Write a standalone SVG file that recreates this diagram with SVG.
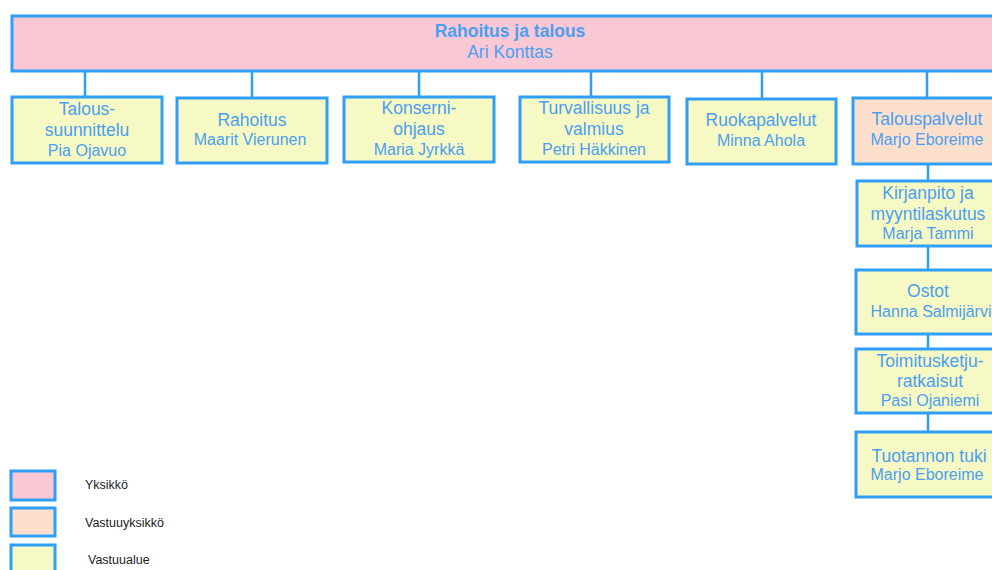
<svg xmlns="http://www.w3.org/2000/svg" width="992" height="570" viewBox="0 0 992 570">
<style>
.box{stroke:#2f9ef5;stroke-width:3}
.unit{fill:#f9c8d4}
.resp{fill:#fde0cc}
.area{fill:#f7f9c4}
.t{font-family:"Liberation Sans",Arial,sans-serif;fill:#4a9ff2;text-anchor:middle}
.h{font-size:17.5px}
.n{font-size:16px}
.b{font-weight:bold}
.lg{font-family:"Liberation Sans",Arial,sans-serif;font-size:12.5px;fill:#222}
.c{stroke:#2f9ef5;stroke-width:2.5;fill:none}
</style>
<rect width="992" height="570" fill="#fff"/>
<g id="connectors">
<line class="c" x1="85" y1="71" x2="85" y2="97"/>
<line class="c" x1="252" y1="71" x2="252" y2="98"/>
<line class="c" x1="419" y1="71" x2="419" y2="97"/>
<line class="c" x1="591" y1="71" x2="591" y2="97"/>
<line class="c" x1="762" y1="71" x2="762" y2="99"/>
<line class="c" x1="927" y1="71" x2="927" y2="98"/>
<line class="c" x1="928" y1="164" x2="928" y2="181"/>
<line class="c" x1="928" y1="246" x2="928" y2="270"/>
<line class="c" x1="928" y1="334" x2="928" y2="349"/>
<line class="c" x1="928" y1="413" x2="928" y2="432"/>
</g>
<g id="root">
<rect class="box unit" x="12" y="16" width="1000" height="55"/>
<text class="t h b" x="510" y="37">Rahoitus ja talous</text>
<text class="t h" x="510" y="58">Ari Konttas</text>
</g>
<g id="taloussuunnittelu">
<rect class="box area" x="12" y="97" width="150" height="66"/>
<text class="t h" x="87" y="115">Talous-</text>
<text class="t h" x="87" y="136">suunnittelu</text>
<text class="t n" x="87" y="156">Pia Ojavuo</text>
</g>
<g id="rahoitus">
<rect class="box area" x="177" y="98" width="150" height="65"/>
<text class="t h" x="252" y="126">Rahoitus</text>
<text class="t n" x="250" y="145">Maarit Vierunen</text>
</g>
<g id="konserniohjaus">
<rect class="box area" x="344" y="97" width="150" height="65"/>
<text class="t h" x="419" y="114">Konserni-</text>
<text class="t h" x="419" y="135">ohjaus</text>
<text class="t n" x="419" y="155">Maria Jyrkkä</text>
</g>
<g id="turvallisuus">
<rect class="box area" x="520" y="97" width="149" height="65"/>
<text class="t h" x="594" y="114">Turvallisuus ja</text>
<text class="t h" x="594" y="135">valmius</text>
<text class="t n" x="594" y="155">Petri Häkkinen</text>
</g>
<g id="ruokapalvelut">
<rect class="box area" x="687" y="99" width="149" height="65"/>
<text class="t h" x="761" y="126">Ruokapalvelut</text>
<text class="t n" x="761" y="146">Minna Ahola</text>
</g>
<g id="talouspalvelut">
<rect class="box resp" x="853" y="98" width="150" height="66"/>
<text class="t h" x="927" y="125">Talouspalvelut</text>
<text class="t n" x="927" y="145">Marjo Eboreime</text>
</g>
<g id="kirjanpito">
<rect class="box area" x="857" y="181" width="146" height="65"/>
<text class="t h" x="928" y="199">Kirjanpito ja</text>
<text class="t h" x="928" y="220">myyntilaskutus</text>
<text class="t n" x="928" y="239">Marja Tammi</text>
</g>
<g id="ostot">
<rect class="box area" x="856" y="270" width="147" height="64"/>
<text class="t h" x="928" y="297">Ostot</text>
<text class="t n" x="931" y="317">Hanna Salmijärvi</text>
</g>
<g id="toimitusketju">
<rect class="box area" x="856" y="349" width="147" height="64"/>
<text class="t h" x="930" y="367">Toimitusketju-</text>
<text class="t h" x="930" y="387">ratkaisut</text>
<text class="t n" x="930" y="406">Pasi Ojaniemi</text>
</g>
<g id="tuotannon-tuki">
<rect class="box area" x="856" y="432" width="147" height="65"/>
<text class="t h" x="929" y="462">Tuotannon tuki</text>
<text class="t n" x="927" y="480">Marjo Eboreime</text>
</g>
<g id="legend">
<rect class="box unit" x="11" y="471" width="44" height="29"/>
<text class="lg" x="85" y="489">Yksikkö</text>
<rect class="box resp" x="11" y="508" width="44" height="28"/>
<text class="lg" x="85" y="527">Vastuuyksikkö</text>
<rect class="box area" x="11" y="545" width="44" height="30"/>
<text class="lg" x="88" y="564">Vastuualue</text>
</g>
</svg>
